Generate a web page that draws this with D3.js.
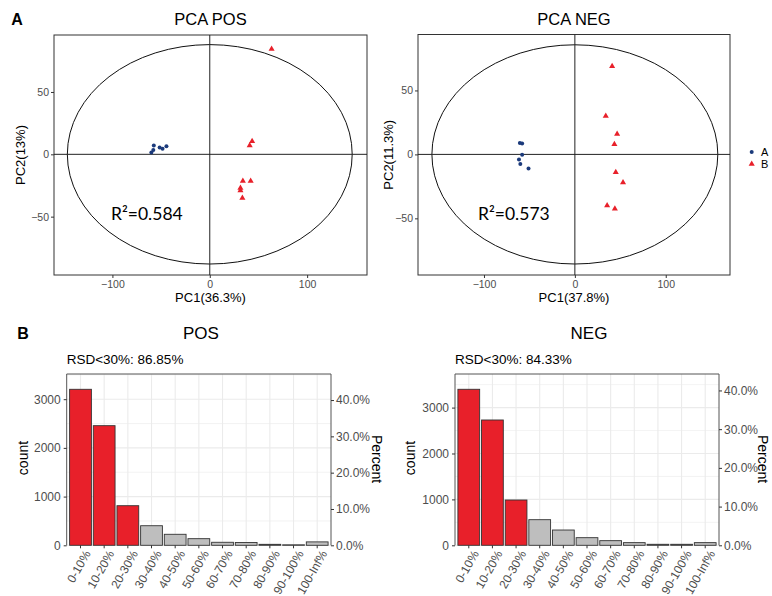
<!DOCTYPE html>
<html>
<head>
<meta charset="utf-8">
<script src="https://cdn.jsdelivr.net/npm/d3@7"></script>
<style>
  body { margin: 0; background: #fff; }
  text { font-family: "Liberation Sans", Arial, sans-serif; }
</style>
</head>
<body>
<div id="chart"></div>
<script>
// PCA scores, [PC1, PC2]
const posGroupA = [[-60, 1.5], [-58, 3.5], [-57.5, 7], [-51.5, 5.5], [-48.5, 4.5], [-44.5, 6.5]];
const posGroupB = [[63.5, 84.5], [41, 7], [43.5, 10.5], [34, -21.5], [42, -21.5], [31.5, -27], [31.5, -29], [33.5, -35]];
const negGroupA = [[-60.5, 9], [-58, 8.5], [-58, -0.3], [-61.5, -4], [-60, -7.5], [-51, -11]];
const negGroupB = [[41, 69], [34, 30], [46.5, 16], [43.5, 8], [45, -14], [53, -22], [35.5, -40], [44, -42.5]];
const groups = ["A", "B"];

// RSD distribution
const rsdBins = ["0-10%", "10-20%", "20-30%", "30-40%", "40-50%", "50-60%", "60-70%", "70-80%", "80-90%", "90-100%", "100-Inf%"];
const posCounts = [3203, 2456, 813, 402, 226, 136, 62, 58, 20, 10, 70];
const negCounts = [3399, 2730, 987, 558, 333, 166, 101, 58, 22, 22, 58];
const redBins = ["0-10%", "10-20%", "20-30%"];
const countTicks = [0, 1000, 2000, 3000];
const percentTicks = [0, 0.1, 0.2, 0.3, 0.4];

const W = 772, H = 596;
const RED = "#E8202A", BLUE = "#1B3A7B", GREY_TXT = "#4D4D4D";

const svg = d3.select("#chart").append("svg")
  .attr("width", W).attr("height", H);

function label(x, y, txt, size, opts = {}) {
  const t = svg.append("text")
    .attr("x", x).attr("y", y)
    .attr("dy", "0.35em")
    .attr("font-size", size)
    .attr("fill", opts.fill || "#000")
    .attr("text-anchor", opts.anchor || "middle")
    .text(txt);
  if (opts.rotate) t.attr("transform", `rotate(${opts.rotate},${x},${y})`);
  if (opts.bold) t.attr("font-weight", "bold");
  if (opts.family) t.style("font-family", opts.family);
  return t;
}

function drawPCA(o) {
  const x = d3.scaleLinear().domain(o.xDomain).range([o.left, o.right]);
  const y = d3.scaleLinear().domain(o.yDomain).range([o.bottom, o.top]);
  const g = svg.append("g");

  g.append("rect")
    .attr("x", o.left).attr("y", o.top)
    .attr("width", o.right - o.left).attr("height", o.bottom - o.top)
    .attr("fill", "none").attr("stroke", "#333").attr("stroke-width", 1);

  // confidence ellipse
  g.append("ellipse")
    .attr("cx", x(0)).attr("cy", y(0))
    .attr("rx", x(o.ellipse[0]) - x(0)).attr("ry", y(0) - y(o.ellipse[1]))
    .attr("fill", "none").attr("stroke", "#111").attr("stroke-width", 1);

  g.append("line").attr("x1", o.left).attr("x2", o.right)
    .attr("y1", y(0)).attr("y2", y(0)).attr("stroke", "#222");
  g.append("line").attr("x1", x(0)).attr("x2", x(0))
    .attr("y1", o.top).attr("y2", o.bottom).attr("stroke", "#222");

  const xAxis = g.append("g").attr("transform", `translate(0,${o.bottom})`)
    .call(d3.axisBottom(x).tickValues([-100, 0, 100]).tickSize(3).tickPadding(3));
  const yAxis = g.append("g").attr("transform", `translate(${o.left},0)`)
    .call(d3.axisLeft(y).tickValues([-50, 0, 50]).tickSize(3).tickPadding(2));
  [xAxis, yAxis].forEach(a => {
    a.select(".domain").remove();
    a.selectAll(".tick line").attr("stroke", "#333");
    a.selectAll(".tick text").attr("fill", GREY_TXT).attr("font-size", 10.5)
      .style("font-family", "Liberation Sans, Arial, sans-serif");
  });

  g.selectAll(".ptA").data(o.a).join("circle")
    .attr("cx", d => x(d[0])).attr("cy", d => y(d[1]))
    .attr("r", 2).attr("fill", BLUE);

  const tri = d3.symbol().type(d3.symbolTriangle).size(16);
  g.selectAll(".ptB").data(o.b).join("path")
    .attr("d", tri)
    .attr("transform", d => `translate(${x(d[0])},${y(d[1])})`)
    .attr("fill", RED);

  label((o.left + o.right) / 2, 19, o.title, 16.5);
  label((o.left + o.right) / 2, 297, o.xLabel, 13);
  label(o.yLabelX, (o.top + o.bottom) / 2, o.yLabel, 13, { rotate: -90 });
  label(o.r2X, 214, o.r2, 17.5, { anchor: "start", family: "Lato, 'Open Sans', sans-serif" });
}

drawPCA({
  left: 54, right: 367, top: 35, bottom: 275,
  xDomain: [-160, 161.5], yDomain: [-96.8, 95.7],
  ellipse: [146.3, 88], a: posGroupA, b: posGroupB,
  title: "PCA POS", xLabel: "PC1(36.3%)", yLabel: "PC2(13%)", yLabelX: 20,
  r2: "R²=0.584", r2X: 111
});

drawPCA({
  left: 418, right: 730, top: 34.5, bottom: 275,
  xDomain: [-172.6, 170.7], yDomain: [-94.3, 93.75],
  ellipse: [157.3, 85.7], a: negGroupA, b: negGroupB,
  title: "PCA NEG", xLabel: "PC1(37.8%)", yLabel: "PC2(11.3%)", yLabelX: 388,
  r2: "R²=0.573", r2X: 478
});

// legend
const legY = d3.scalePoint().domain(groups).range([152, 164]);
svg.append("circle").attr("cx", 751.7).attr("cy", legY("A")).attr("r", 2).attr("fill", BLUE);
svg.append("path").attr("d", d3.symbol().type(d3.symbolTriangle).size(16))
  .attr("transform", `translate(751.7,${legY("B")})`).attr("fill", RED);
groups.forEach(gname => label(761, legY(gname), gname, 11, { anchor: "start" }));

label(17, 19, "A", 16, { bold: true });
label(23, 333, "B", 16, { bold: true });

function drawHist(o) {
  const total = d3.sum(o.counts);
  const x = d3.scaleBand().domain(rsdBins).range([o.left, o.right])
    .paddingInner(0.08).paddingOuter(0.123);
  const y = d3.scaleLinear().domain([0, o.yMax]).range([o.bottom, o.top]);
  const yPct = d3.scaleLinear().domain([0, o.yMax / total]).range([o.bottom, o.top]);
  const g = svg.append("g");

  // grid
  g.selectAll(".hgrid").data(d3.range(0, o.yMax, 500)).join("line")
    .attr("x1", o.left).attr("x2", o.right)
    .attr("y1", d => y(d)).attr("y2", d => y(d))
    .attr("stroke", "#EBEBEB").attr("stroke-width", d => d % 1000 === 0 ? 1.1 : 0.6);
  g.selectAll(".vgrid").data(rsdBins).join("line")
    .attr("x1", d => x(d) + x.bandwidth() / 2).attr("x2", d => x(d) + x.bandwidth() / 2)
    .attr("y1", o.top).attr("y2", o.bottom)
    .attr("stroke", "#EBEBEB").attr("stroke-width", 1.1);

  g.selectAll(".bar").data(rsdBins).join("rect")
    .attr("x", d => x(d)).attr("width", x.bandwidth())
    .attr("y", (d, i) => y(o.counts[i]))
    .attr("height", (d, i) => o.bottom - y(o.counts[i]))
    .attr("fill", d => redBins.includes(d) ? RED : "#BEBEBE")
    .attr("stroke", "#333").attr("stroke-width", 0.9);

  // panel border: top, left, right
  g.append("path")
    .attr("d", `M${o.left},${o.bottom}V${o.top}H${o.right}V${o.bottom}`)
    .attr("fill", "none").attr("stroke", "#555").attr("stroke-width", 1);

  const styleAxis = a => {
    a.select(".domain").remove();
    a.selectAll(".tick line").attr("stroke", "#333");
    a.selectAll(".tick text").attr("fill", GREY_TXT).attr("font-size", 12)
      .style("font-family", "Liberation Sans, Arial, sans-serif");
  };
  g.append("g").attr("transform", `translate(${o.left},0)`)
    .call(d3.axisLeft(y).tickValues(countTicks).tickFormat(d3.format("d")).tickSize(3).tickPadding(3))
    .call(styleAxis);
  g.append("g").attr("transform", `translate(${o.right},0)`)
    .call(d3.axisRight(yPct).tickValues(percentTicks).tickFormat(d3.format(".1%")).tickSize(3).tickPadding(2))
    .call(styleAxis);
  const xa = g.append("g").attr("transform", `translate(0,${o.bottom})`)
    .call(d3.axisBottom(x).tickSize(3).tickPadding(3)).call(styleAxis);
  xa.selectAll(".tick text")
    .attr("text-anchor", "end")
    .attr("transform", "translate(3,4) rotate(-60)")
    .attr("dy", "0.72em").attr("y", 0).attr("x", 0);

  label((o.left + o.right) / 2 + 2, 333, o.title, 17);
  label(o.left, 359, o.subtitle, 13.5, { anchor: "start" });
  label(o.countX, 458, "count", 14, { rotate: -90 });
  label(o.pctX, 459, "Percent", 14, { rotate: 90 });
}

drawHist({
  left: 66.7, right: 331, top: 374, bottom: 545.3, yMax: 3517,
  counts: posCounts, title: "POS", subtitle: "RSD<30%: 86.85%",
  countX: 23, pctX: 377
});

drawHist({
  left: 455, right: 719, top: 374, bottom: 545.3, yMax: 3732,
  counts: negCounts, title: "NEG", subtitle: "RSD<30%: 84.33%",
  countX: 410, pctX: 763
});
</script>
</body>
</html>
